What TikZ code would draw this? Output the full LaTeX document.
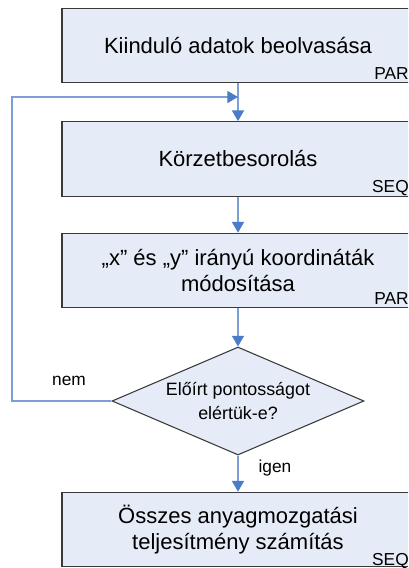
\documentclass[tikz,border=0pt]{standalone}
\usepackage{fontspec}
\setmainfont{Liberation Sans}
\usetikzlibrary{shapes.geometric,arrows.meta}
\definecolor{boxfill}{HTML}{E6ECF7}
\definecolor{boxdraw}{HTML}{3A3A3A}
\definecolor{cline}{HTML}{7C9FD6}
\definecolor{ctip}{HTML}{4A7CC8}
\tikzset{
  procbox/.style={draw=boxdraw, fill=boxfill, line width=0.8pt, minimum width=264pt, minimum height=56pt, inner sep=0pt, align=center, font=\fontsize{16.5}{20}\selectfont},
  decbox/.style={diamond, draw=boxdraw, fill=boxfill, line width=0.8pt, minimum width=189pt, minimum height=81pt, aspect=2.33, inner sep=0pt, align=center, font=\fontsize{13.4}{18}\selectfont},
  tag/.style={anchor=base east, inner sep=0pt, font=\fontsize{13}{15}\selectfont},
  lbl/.style={inner sep=0pt, font=\fontsize{13}{15}\selectfont},
  conn/.style={draw=cline, line width=1pt, -{Triangle[width=9pt,length=8pt,color=ctip]}}
}
\begin{document}
\begin{tikzpicture}[x=0.75pt,y=-0.75pt]
\useasboundingbox (0,0) rectangle (408,568);
\clip (0,0) rectangle (408,568);
\fill[white] (0,0) rectangle (408,568);
\node[procbox] (b1) at (238,45.5) {Kiinduló adatok beolvasása};
\node[procbox] (b2) at (238,159) {Körzetbesorolás};
\node[procbox] (b3) at (238,270.5) {„x” és „y” irányú koordináták\\módosítása};
\node[decbox] (d) at (238,401) {Előírt pontosságot\\elértük-e?};
\node[procbox] (b4) at (238,529.5) {Összes anyagmozgatási\\teljesítmény számítás};
\node[tag] (t1) at (409,79) {PAR};
\node[tag] (t2) at (409,192) {SEQ};
\node[tag] (t3) at (409,304) {PAR};
\node[tag] (t4) at (409,565) {SEQ};
\coordinate (m) at (238,97);
\coordinate (lc) at (12,401);
\draw[conn] (b1.south) -- (b2.north);
\draw[conn] (b2.south) -- (b3.north);
\draw[conn] (b3.south) -- (d.north);
\draw[conn] (d.south) -- (b4.north);
\draw[conn] (d.west) -- (lc) |- (m);
\node[lbl] (nem) at (69,381) {nem};
\node[lbl] (igen) at (275,468) {igen};
\end{tikzpicture}
\end{document}
